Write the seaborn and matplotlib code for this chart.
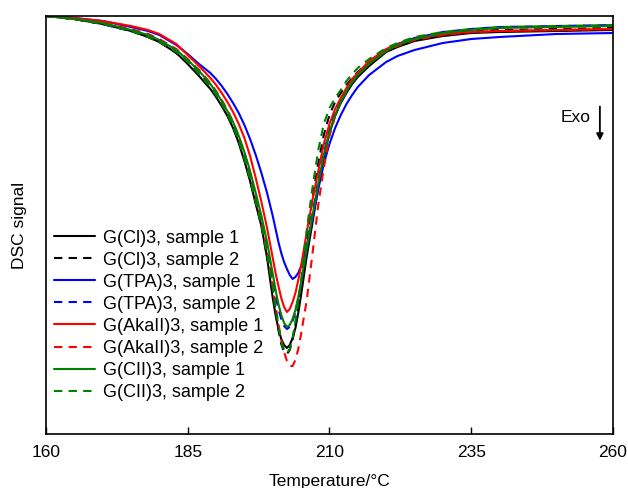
import numpy as np
import pandas as pd
import seaborn as sns
import matplotlib
matplotlib.use("Agg")
import matplotlib.pyplot as plt

# temperature grid (deg C)
temp = [160, 165, 170, 175, 178, 180, 183, 185, 187, 189, 190, 191, 192, 193, 194, 195,
        196, 197, 198, 199, 200, 200.5, 201, 201.5, 202, 202.5, 203, 203.5, 204, 204.5,
        205, 206, 207, 208, 209, 210, 211, 212, 213, 214, 215, 217, 220, 222, 225, 230,
        235, 240, 250, 260]

# DSC signal depth (arbitrary units)
cl_s1 = [0, 3, 8, 15, 21, 26, 37, 48, 60, 73, 81, 90, 100, 112, 127, 145,
         165, 188, 210, 242, 282, 299, 313, 323, 329, 332, 329, 322, 312, 297,
         279, 240, 207, 172, 142, 117, 100, 87, 77, 68, 61, 50, 36, 31, 25, 20,
         17, 16, 15, 14]
cl_s2 = [0, 3, 8, 15, 21, 26, 37, 47, 59, 72, 80, 89, 99, 111, 126, 144,
         164, 187, 210, 240, 276, 296, 314, 328, 336, 338, 334, 324, 309, 290,
         268, 222, 183, 148, 119, 99, 86, 77, 69, 62, 56, 46, 34, 29, 23, 18,
         15, 14, 13, 12]
tpa_s1 = [0, 2, 5, 11, 15, 19, 29, 38, 48, 57, 63, 70, 78, 87, 97, 109,
          123, 139, 157, 177, 200, 213, 226, 237, 246, 253, 259, 263, 261, 257,
          250, 230, 203, 174, 148, 128, 112, 99, 88, 79, 71, 59, 46, 40, 34, 27,
          23, 21, 18, 17]
tpa_s2 = [0, 3, 8, 15, 20, 25, 35, 45, 57, 70, 78, 87, 97, 109, 123, 139,
          159, 181, 205, 232, 264, 280, 293, 303, 310, 313, 311, 305, 296, 283,
          268, 232, 198, 165, 137, 114, 97, 84, 74, 65, 58, 47, 34, 28, 22, 16,
          13, 11, 10, 9]
akall_s1 = [0, 2, 5, 10, 14, 18, 28, 39, 50, 62, 69, 77, 86, 96, 108, 122,
            140, 162, 186, 212, 242, 257, 270, 282, 291, 296, 293, 286, 277, 264,
            250, 216, 184, 156, 128, 108, 93, 82, 72, 63, 57, 45, 33, 28, 23, 18,
            16, 15, 14, 13]
akall_s2 = [0, 3, 7, 13, 18, 23, 33, 43, 54, 67, 75, 84, 94, 106, 120, 137,
            157, 180, 205, 234, 270, 290, 308, 324, 336, 345, 350, 350, 344, 333,
            318, 284, 238, 190, 152, 120, 100, 86, 75, 66, 59, 47, 35, 30, 24, 19,
            16, 15, 14, 13]
cll_s1 = [0, 3, 7, 14, 19, 24, 34, 44, 55, 68, 76, 85, 95, 106, 120, 136,
          155, 177, 200, 226, 258, 274, 288, 299, 307, 311, 309, 303, 294, 281,
          266, 232, 200, 168, 139, 116, 99, 86, 75, 66, 59, 48, 35, 29, 23, 17,
          14, 12, 11, 10]
cll_s2 = [0, 3, 8, 15, 21, 26, 36, 46, 58, 71, 79, 88, 98, 110, 125, 143,
          163, 186, 209, 238, 272, 292, 310, 325, 334, 337, 333, 322, 305, 286,
          265, 214, 172, 135, 108, 92, 82, 74, 65, 58, 52, 43, 32, 27, 21, 16,
          13, 11, 10, 9]

labels = ["G(Cl)3, sample 1", "G(Cl)3, sample 2",
          "G(TPA)3, sample 1", "G(TPA)3, sample 2",
          "G(AkaII)3, sample 1", "G(AkaII)3, sample 2",
          "G(CII)3, sample 1", "G(CII)3, sample 2"]
series = [cl_s1, cl_s2, tpa_s1, tpa_s2, akall_s1, akall_s2, cll_s1, cll_s2]
colors = ["black", "black", "#0000ff", "#0000ff", "#ff0000", "#ff0000", "#008000", "#008000"]
dashed = [False, True] * 4

sns.set_theme(style="white")
plt.rcParams['font.family'] = ['Liberation Sans', 'DejaVu Sans']
plt.rcParams['text.color'] = 'black'
plt.rcParams['axes.labelcolor'] = 'black'
plt.rcParams['xtick.color'] = 'black'

fig = plt.figure(figsize=(6.28, 4.88), dpi=100)
ax = fig.add_axes([0.0732, 0.1107, 0.9028, 0.8565])

for lab, vals, col, d in zip(labels, series, colors, dashed):
    df = pd.DataFrame({"T": temp, "signal": -np.array(vals, dtype=float)})
    sns.lineplot(data=df, x="T", y="signal", color=col, lw=1.5, ax=ax,
                 label=lab, sort=False, errorbar=None,
                 linestyle="--" if d else "-")
for line, d in zip(ax.get_lines(), dashed):
    if d:
        line.set_dashes((4, 3))

ax.set_xlim(160, 260)
ax.set_ylim(-418, 0)
ax.set_xticks([160, 185, 210, 235, 260])
ax.set_yticks([])
ax.tick_params(axis="x", direction="in", length=5, width=1, labelsize=12.5,
               bottom=True, pad=8, colors="black")
for sp in ax.spines.values():
    sp.set_color("black")
    sp.set_linewidth(1.2)

ax.set_xlabel("Temperature/°C", fontsize=12.5, labelpad=10)
ax.set_ylabel("DSC signal", fontsize=12.5, labelpad=14)

leg = ax.legend(loc="upper left", bbox_to_anchor=(-0.005, 0.515), frameon=False,
                fontsize=13, handlelength=2.3, handletextpad=0.4,
                labelspacing=0.28, borderaxespad=0.2)
for t in leg.get_texts():
    t.set_color("black")
for h, d in zip(leg.get_lines(), dashed):
    h.set_linewidth(1.5)
    if d:
        h.set_dashes((4, 3))

ax.text(0.96, 0.756, "Exo", transform=ax.transAxes, ha="right", va="center",
        fontsize=12.5, color="black")
ax.annotate("", xy=(0.977, 0.695), xytext=(0.977, 0.79), xycoords="axes fraction",
            arrowprops=dict(arrowstyle="-|>", color="black", lw=1.3,
                            mutation_scale=10))

fig.savefig("out.png", dpi=100)
